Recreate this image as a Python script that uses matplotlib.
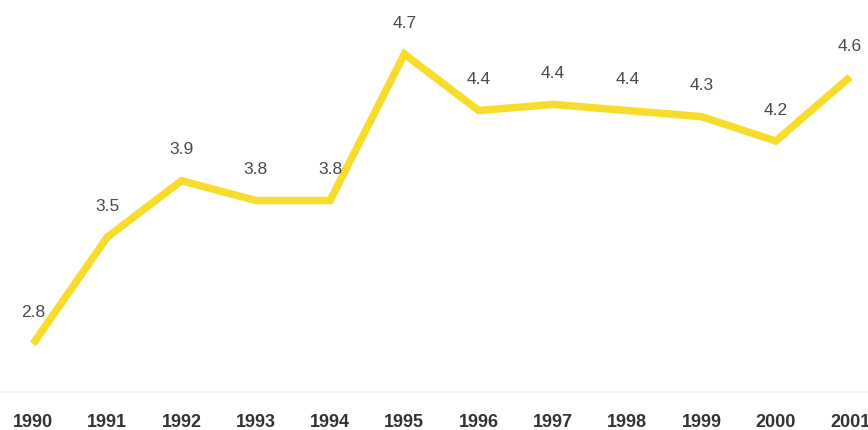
import matplotlib
matplotlib.use("Agg")
import matplotlib.pyplot as plt

years = [1990, 1991, 1992, 1993, 1994, 1995, 1996, 1997, 1998, 1999, 2000, 2001]
values = [2.8, 3.5, 3.87, 3.74, 3.74, 4.7, 4.33, 4.37, 4.33, 4.29, 4.13, 4.55]
labels = ["2.8", "3.5", "3.9", "3.8", "3.8", "4.7", "4.4", "4.4", "4.4", "4.3", "4.2", "4.6"]
tick_labels = [str(y) for y in years]

plt.rcParams['font.family'] = ['Liberation Sans', 'DejaVu Sans']

fig = plt.figure(figsize=(8.68, 4.31), dpi=100)
ax = fig.add_axes([0, 38 / 431, 1, 393 / 431])

ax.plot(years, values, color="#F7DC2B", lw=5.4, solid_joinstyle="miter", solid_capstyle="butt")

for x, v, t in zip(years, values, labels):
    ax.annotate(t, (x, v), xytext=(0, 23), textcoords="offset points",
                ha="center", va="center", fontsize=12.5, color="#4a4a4a")

ax.set_xlim(1989.556, 2001.242)
ax.set_ylim(2.485, 5.061)
ax.set_xticks(years)
ax.set_xticklabels(tick_labels, fontsize=13, fontweight="bold", color="#333333")
ax.tick_params(axis="x", length=0, pad=15)
ax.set_yticks([])
for s in ["top", "right", "left"]:
    ax.spines[s].set_visible(False)
ax.spines["bottom"].set_color("#f6f4e8")
ax.spines["bottom"].set_linewidth(1.2)

fig.savefig("out.png", dpi=100)
